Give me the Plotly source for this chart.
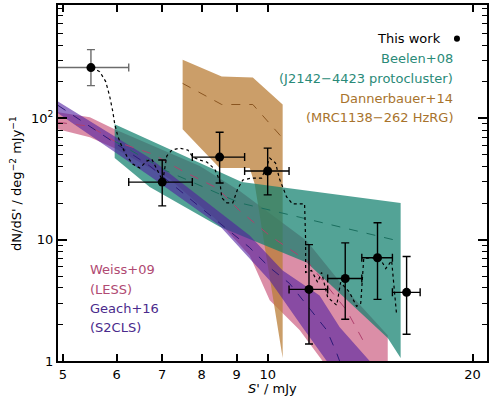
import numpy as np
import plotly.graph_objects as go

# ---------------- data ----------------
# This work: flux bins and counts
pt_x = [5.5, 7.0, 8.5, 10.0, 11.5, 13.0, 14.5, 16.0]
pt_y = [262, 29.8, 47.9, 36.8, 3.89, 4.79, 7.1, 3.68]
pt_ylo = [186, 19.0, 29.3, 23.4, 1.38, 2.21, 3.22, 1.66]
pt_yhi = [368, 45.3, 76.8, 56.8, 9.1, 9.4, 13.8, 7.26]
pt_xlo = [4.75, 6.25, 7.75, 9.25, 10.75, 12.25, 13.75, 15.25]
pt_xhi = [6.25, 7.75, 9.25, 10.75, 12.25, 13.75, 15.25, 16.75]

# dotted curve (this work)
dot_x = [5.515, 5.666, 5.782, 5.861, 5.921, 5.962, 6.023, 6.104, 6.209, 6.336, 6.488, 6.643,
         6.757, 6.871, 7.012, 7.108, 7.231, 7.430, 7.635, 7.764, 7.950, 8.140, 8.362, 8.504,
         8.563, 8.708, 8.886, 9.036, 9.191, 9.473, 9.800, 9.968, 10.07, 10.27, 10.41, 10.66,
         10.88, 11.33, 11.37, 11.37, 11.60, 11.84, 12.00, 12.25, 12.63, 12.80, 13.19, 13.51,
         13.70, 13.84, 14.21, 14.66, 14.91, 15.21, 15.37, 15.47]
dot_y = [261.8, 242.6, 200.9, 151.4, 114.0, 89.3, 71.2, 58.9, 48.8, 42.0, 38.9, 44.4,
         46.1, 38.2, 30.5, 48.8, 54.7, 56.8, 54.7, 47.9, 45.3, 43.6, 38.2, 30.5,
         22.1, 20.1, 20.1, 26.2, 31.0, 32.2, 32.2, 40.5, 47.0, 42.8, 31.6, 22.5,
         19.7, 19.7, 9.82, 5.37, 5.57, 4.45, 5.37, 3.35, 2.88, 4.45, 3.68, 2.82,
         2.99, 6.98, 7.11, 6.85, 5.78, 6.72, 3.82, 2.38]

# Weiss+09 (LESS)
weiss_up_x = [4.92, 5.48, 5.96, 7.95, 9.10, 11.41, 13.06, 15.01]
weiss_up_y = [112, 102, 81.3, 40.5, 25.2, 9.8, 3.82, 1.63]
weiss_lo_x = [4.92, 5.48, 5.96, 7.18, 8.50, 9.41, 10.07, 11.14, 12.04, 15.01]
weiss_lo_y = [81.3, 69.8, 56.8, 31.6, 13.8, 7.39, 3.16, 1.80, 1.0, 0.5]
weiss_mid_x = [4.92, 5.48, 5.96, 6.78, 7.50, 8.42, 9.10, 10.07, 11.41, 13.06, 13.98]
weiss_mid_y = [92.7, 86, 64.8, 50.7, 36.8, 26.7, 17.3, 10.8, 6.72, 2.62, 1.30]

# Geach+16 (S2CLS)
geach_up_x = [4.92, 6.71, 9.41, 10.52, 11.92, 12.76, 14.12, 14.5]
geach_up_y = [137.9, 47.0, 10.8, 5.57, 3.47, 1.90, 1.0, 0.70]
geach_lo_x = [4.92, 6.71, 8.50, 10.07, 11.25, 12.21, 12.54]
geach_lo_y = [109.9, 33.5, 13.0, 4.61, 1.90, 1.0, 0.70]
geach_mid_x = [4.92, 6.71, 9.41, 10.07, 10.77, 12.21, 12.63, 13.06]
geach_mid_y = [127.8, 40.5, 8.6, 5.89, 4.35, 1.80, 1.16, 0.70]

# Beelen+08 (J2142-4423 protocluster)
beelen_up_x = [5.96, 9.16, 15.68]
beelen_up_y = [89.3, 29.9, 20.1]
beelen_lo_x = [5.96, 6.71, 8.50, 11.41, 15.01, 15.68]
beelen_lo_y = [47.0, 27.2, 12.8, 6.47, 1.55, 1.06]
beelen_mid_x = [5.96, 7.11, 9.10, 15.52]
beelen_mid_y = [64.8, 36.8, 20.1, 9.8]

# Dannerbauer+14 (MRC1138-262 HzRG)
dann_x = [7.50, 8.56, 9.51, 10.52, 10.52, 10.14, 9.83, 9.57, 9.41, 8.50, 7.50]
dann_y = [304.6, 220.8, 216.8, 130, 1.06, 3.82, 11.9, 28.8, 38.9, 38.9, 81.2]
dann_mid_x = [7.50, 8.56, 9.51, 10.52]
dann_mid_y = [194, 130, 130, 68.6]

x_ticks = [5, 6, 7, 8, 9, 10, 20]
y_ticks = [1, 10, 100]
y_ticktext = ["1", "10", "10<sup>2</sup>"]

# ---------------- figure ----------------
FONT = "DejaVu Sans"
FS = 13
fig = go.Figure()


def band(ux, uy, lx, ly, color):
    fig.add_trace(go.Scatter(x=list(ux) + list(lx)[::-1], y=list(uy) + list(ly)[::-1],
                             fill="toself", fillcolor=color, mode="lines",
                             line=dict(width=0), hoverinfo="skip", showlegend=False))


def dashed(x, y, color):
    fig.add_trace(go.Scatter(x=x, y=y, mode="lines",
                             line=dict(color=color, width=1, dash="dash"),
                             hoverinfo="skip", showlegend=False))


band(weiss_up_x, weiss_up_y, weiss_lo_x, weiss_lo_y, "rgba(190,50,95,0.55)")
fig.add_trace(go.Scatter(x=dann_x, y=dann_y, fill="toself", fillcolor="rgba(185,125,55,0.75)",
                         mode="lines", line=dict(width=0), hoverinfo="skip", showlegend=False))
band(beelen_up_x, beelen_up_y, beelen_lo_x, beelen_lo_y, "rgba(16,128,109,0.72)")
band(geach_up_x, geach_up_y, geach_lo_x, geach_lo_y, "rgba(80,30,160,0.6)")

dashed(weiss_mid_x, weiss_mid_y, "#b0406e")
dashed(geach_mid_x, geach_mid_y, "#2e1a78")
dashed(beelen_mid_x, beelen_mid_y, "#1a6e5e")
dashed(dann_mid_x, dann_mid_y, "#8a5520")

fig.add_trace(go.Scatter(x=dot_x, y=dot_y, mode="lines",
                         line=dict(color="black", width=1.2, dash="dot"),
                         hoverinfo="skip", showlegend=False))

ex_p = [h - x for h, x in zip(pt_xhi, pt_x)]
ex_m = [x - l for l, x in zip(pt_xlo, pt_x)]
ey_p = [h - y for h, y in zip(pt_yhi, pt_y)]
ey_m = [y - l for l, y in zip(pt_ylo, pt_y)]

for idx, col in [([0], "#6b6b6b"), (list(range(1, len(pt_x))), "black")]:
    fig.add_trace(go.Scatter(
        x=[pt_x[i] for i in idx], y=[pt_y[i] for i in idx], mode="markers",
        marker=dict(color="black", size=9),
        error_x=dict(type="data", symmetric=False, array=[ex_p[i] for i in idx],
                     arrayminus=[ex_m[i] for i in idx], color=col, thickness=1.4, width=4),
        error_y=dict(type="data", symmetric=False, array=[ey_p[i] for i in idx],
                     arrayminus=[ey_m[i] for i in idx], color=col, thickness=1.4, width=4),
        hoverinfo="skip", showlegend=False))

minor_y = [v * d for d in (1, 10, 100) for v in range(2, 10)]

fig.update_xaxes(type="log", range=[np.log10(4.92), np.log10(21.0)],
                 tickvals=x_ticks, ticktext=[str(t) for t in x_ticks],
                 ticks="inside", ticklen=7, tickwidth=1.5, tickcolor="black",
                 showline=True, linewidth=2, linecolor="black", mirror="ticks",
                 showgrid=False, zeroline=False,
                 tickfont=dict(family=FONT, size=FS, color="black"))
fig.update_yaxes(type="log", range=[0, 2.934],
                 tickvals=y_ticks, ticktext=y_ticktext,
                 ticks="inside", ticklen=9, tickwidth=1.5, tickcolor="black",
                 minor=dict(tickvals=minor_y, ticks="inside", ticklen=5, tickwidth=1.2,
                            tickcolor="black", showgrid=False),
                 showline=True, linewidth=2, linecolor="black", mirror="ticks",
                 showgrid=False, zeroline=False,
                 tickfont=dict(family=FONT, size=FS, color="black"))

ann = []
def txt(s, x, y, color, anchor):
    ann.append(dict(text=s, x=x, y=y, xref="paper", yref="paper", showarrow=False,
                    xanchor=anchor, yanchor="middle",
                    font=dict(family=FONT, size=FS, color=color)))

txt("This work", 0.897, 0.905, "black", "right")
txt("Beelen+08", 0.925, 0.849, "#2a8a78", "right")
txt("(J2142\u22124423 protocluster)", 0.925, 0.793, "#2a8a78", "right")
txt("Dannerbauer+14", 0.925, 0.737, "#a8732c", "right")
txt("(MRC1138\u2212262 HzRG)", 0.925, 0.684, "#a8732c", "right")
txt("Weiss+09", 0.070, 0.257, "#b04a72", "left")
txt("(LESS)", 0.070, 0.201, "#b04a72", "left")
txt("Geach+16", 0.070, 0.148, "#4a2a8c", "left")
txt("(S2CLS)", 0.070, 0.095, "#4a2a8c", "left")

ann.append(dict(text="<i>S'</i> / mJy", x=0.499, y=-0.078, xref="paper", yref="paper",
                showarrow=False, xanchor="center", yanchor="middle",
                font=dict(family=FONT, size=FS, color="black")))
ann.append(dict(text="dN/dS' / deg<sup>\u22122</sup> mJy<sup>\u22121</sup>", x=-0.098, y=0.5,
                xref="paper", yref="paper", showarrow=False, textangle=-90,
                xanchor="center", yanchor="middle",
                font=dict(family=FONT, size=FS, color="black")))

fig.update_layout(width=494, height=396, margin=dict(l=58, r=7, t=3, b=35),
                  paper_bgcolor="white", plot_bgcolor="white", annotations=ann,
                  shapes=[dict(type="circle", xref="paper", yref="paper",
                               x0=0.923, x1=0.937, y0=0.897, y1=0.914,
                               fillcolor="black", line=dict(width=0))])

fig.write_html("out.html")
